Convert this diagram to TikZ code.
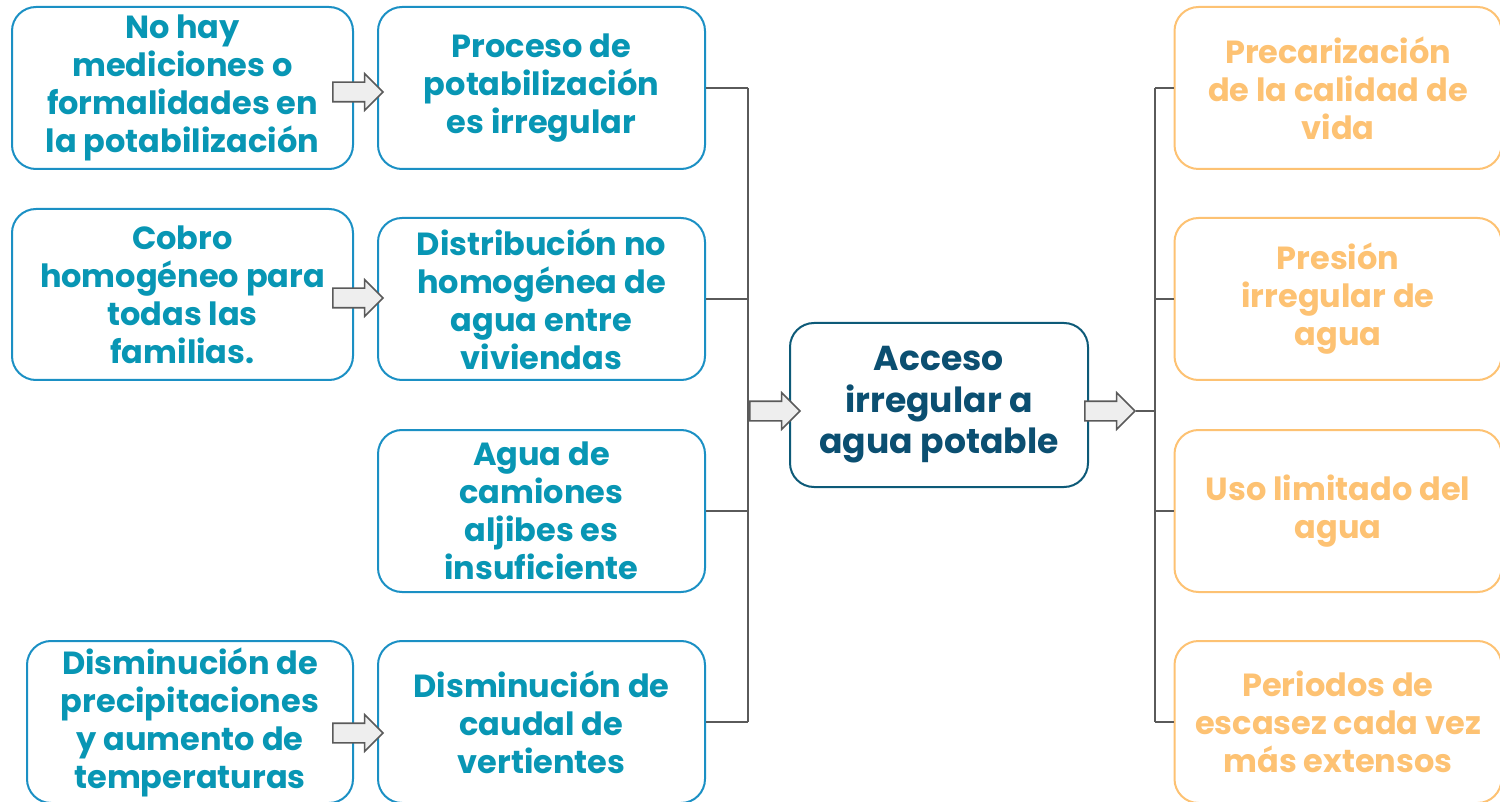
\documentclass[tikz,border=0pt]{standalone}
\usepackage{fontspec}
\setmainfont{Poppins}
\usetikzlibrary{shapes.arrows}
\definecolor{causeblue}{HTML}{1B90C4}
\definecolor{causetext}{HTML}{0896B4}
\definecolor{coreblue}{HTML}{0D5A78}
\definecolor{coretext}{HTML}{0B4F71}
\definecolor{effectorange}{HTML}{FDC273}
\definecolor{arrowgray}{HTML}{5A5A5A}
\tikzset{
  box/.style={draw, rounded corners=12pt, line width=1pt, align=center, inner sep=0pt,
    font=\bfseries\fontsize{16}{19}\selectfont},
  cause/.style={box, draw=causeblue, text=causetext},
  core/.style={box, draw=coreblue, text=coretext, font=\bfseries\fontsize{17.3}{20.8}\selectfont},
  effect/.style={box, draw=effectorange, text=effectorange},
  blockarrow/.style={single arrow, draw=arrowgray, fill=gray!13, line width=0.8pt,
    minimum height=25pt, minimum width=0pt, inner xsep=0pt, inner ysep=4.5pt,
    single arrow head extend=4.25pt},
  bus/.style={draw=arrowgray, line width=0.8pt},
}
\begin{document}
\begin{tikzpicture}[x=0.5pt,y=-0.5pt]
  \useasboundingbox (0,0) rectangle (1500,802);
%%
  % Node: root causes
  \node[cause, minimum width=170.5pt, minimum height=81pt] (nohay) at (182.5,88)
    {No hay\\mediciones o\\formalidades en\\la potabilización};
  \node[cause, minimum width=170.5pt, minimum height=85.5pt] (cobro) at (182.5,294.5)
    {Cobro\\homogéneo para\\todas las\\familias.};
  \node[cause, minimum width=163pt, minimum height=81pt] (precip) at (190,722)
    {Disminución de\\precipitaciones\\y aumento de\\temperaturas};
  % Node: causes
  \node[cause, minimum width=163.5pt, minimum height=81pt] (proceso) at (541.5,88)
    {Proceso de\\potabilización\\es irregular};
  \node[cause, minimum width=163.5pt, minimum height=81pt] (distrib) at (541.5,299)
    {Distribución no\\homogénea de\\agua entre\\viviendas};
  \node[cause, minimum width=163.5pt, minimum height=81pt] (aljibes) at (541.5,511)
    {Agua de\\camiones\\aljibes es\\insuficiente};
  \node[cause, minimum width=163.5pt, minimum height=81pt] (caudal) at (541.5,722)
    {Disminución de\\caudal de\\vertientes};
  % Node: core problem
  \node[core, minimum width=149pt, minimum height=82pt] (acceso) at (939,405)
    {Acceso\\irregular a\\agua potable};
  % Node: effects
  \node[effect, minimum width=163.5pt, minimum height=81pt] (precar) at (1338,88)
    {Precarización\\de la calidad de\\vida};
  \node[effect, minimum width=163.5pt, minimum height=81pt] (presion) at (1338,299)
    {Presión\\irregular de\\agua};
  \node[effect, minimum width=163.5pt, minimum height=81pt] (uso) at (1338,511)
    {Uso limitado del\\agua};
  \node[effect, minimum width=163.5pt, minimum height=81pt] (periodos) at (1338,722)
    {Periodos de\\escasez cada vez\\más extensos};
  % Edge: causes -> acceso
  \coordinate (busL) at (748,405);
  \draw[bus] (proceso.east) -- (proceso.east -| busL);
  \draw[bus] (distrib.east) -- (distrib.east -| busL);
  \draw[bus] (aljibes.east) -- (aljibes.east -| busL);
  \draw[bus] (caudal.east) -- (caudal.east -| busL);
  \draw[bus] (proceso.east -| busL) -- (caudal.east -| busL);
  \node[blockarrow] (toacceso) at (770,411) {};
  % Edge: acceso -> effects
  \coordinate (busR) at (1155,411);
  \node[blockarrow] (fromacceso) at (1105,411) {};
  \draw[bus] (fromacceso.tip) -- (busR);
  \draw[bus] (precar.west -| busR) -- (periodos.west -| busR);
  \draw[bus] (precar.west -| busR) -- (precar.west);
  \draw[bus] (presion.west -| busR) -- (presion.west);
  \draw[bus] (uso.west -| busR) -- (uso.west);
  \draw[bus] (periodos.west -| busR) -- (periodos.west);
  % Edge: root causes -> causes
  \node[blockarrow] (a1) at (353,92) {};
  \node[blockarrow] (a2) at (353,298) {};
  \node[blockarrow] (a3) at (353,733) {};
%
\end{tikzpicture}
\end{document}
